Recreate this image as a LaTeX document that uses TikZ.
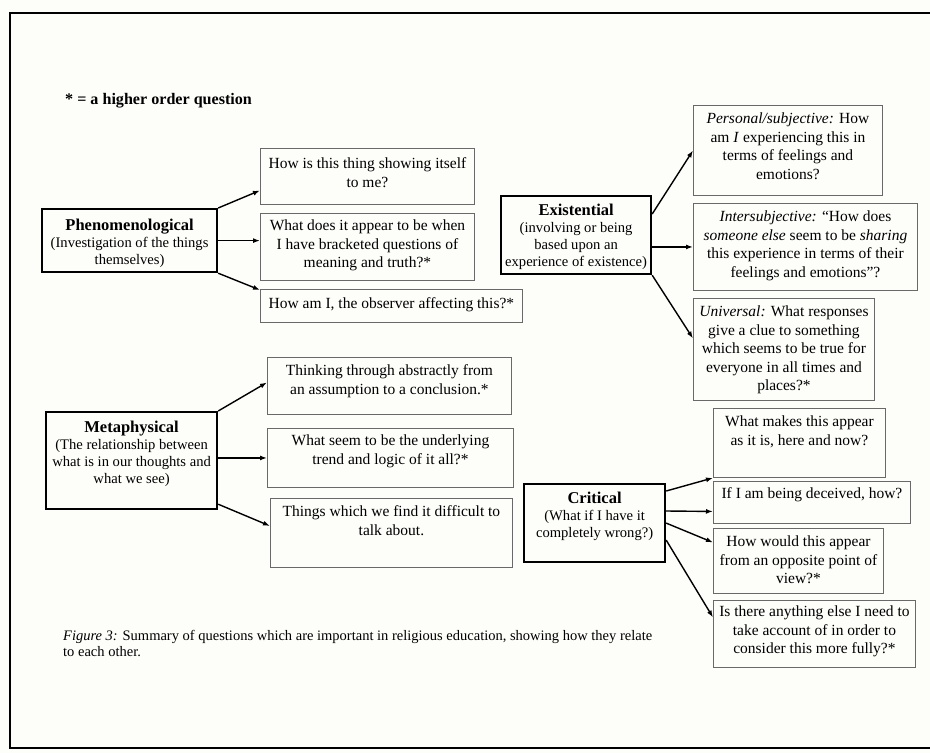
\documentclass[tikz,border=0pt]{standalone}
\usepackage{fontspec}
\setmainfont{Liberation Serif}
\usetikzlibrary{arrows.meta,calc}
\definecolor{paper}{RGB}{253,254,250}
\definecolor{qline}{RGB}{105,105,105}
% question box contents: width, height, top padding, text
\newcommand\qtext[4]{\parbox[c][#2pt][t]{#1pt}{\centering\fontsize{15.5}{18.5}\selectfont\vspace*{#3pt}\strut #4\par}}
% heading box contents: width, height, top padding, title, description
\newcommand\mtext[5]{\parbox[c][#2pt][t]{#1pt}{\centering\fontsize{14.6}{17}\selectfont\vspace*{#3pt}{\fontsize{16.5}{17}\selectfont\bfseries\strut #4}\\#5\par}}
\begin{document}
\begin{tikzpicture}[x=1pt,y=-1pt,
  qbox/.style={draw=qline,line width=0.9pt,inner sep=0pt,anchor=north west},
  mbox/.style={draw=black,line width=2.2pt,inner sep=0pt,anchor=north west},
  link/.style={line width=1.4pt,-{Latex[length=7pt,width=5pt]}}]
\useasboundingbox (0,0) rectangle (930,753);
\fill[paper] (0,0) rectangle (930,753);
\draw[line width=2.2pt] (930,13) -- (10,13) -- (10,748) -- (930,748);

\node[anchor=west,inner sep=0pt,font=\fontsize{16.1}{18}\selectfont\bfseries] (key) at (65,101) {* = a higher order question};

% Phenomenological
\node[mbox] (phen) at (41,208) {\mtext{175}{63}{9.1}{Phenomenological}{(Investigation of the things\\themselves)}};
\node[qbox] (q1) at (260,148) {\qtext{214}{56}{7.5}{How is this thing showing itself\\to me?}};
\node[qbox] (q2) at (260,213) {\qtext{214}{67}{4.5}{What does it appear to be when\\I have bracketed questions of\\meaning and truth?*}};
\node[qbox] (q3) at (260,289) {\qtext{262}{33}{6.5}{How am I, the observer affecting this?*}};

% Existential
\node[mbox] (exist) at (500,195) {\mtext{150}{78}{7.1}{Existential}{(involving or being\\based upon an\\experience of existence)}};
\node[qbox] (e1) at (693,105) {\qtext{189}{90}{5.5}{\textit{Personal/subjective:} How\\am \textit{I} experiencing this in\\terms of feelings and\\emotions?}};
\node[qbox] (e2) at (693,203) {\qtext{224}{87}{5.5}{\textit{Intersubjective:} ``How does\\\textit{someone else} seem to be \textit{sharing}\\this experience in terms of their\\feelings and emotions''?}};
\node[qbox] (e3) at (693,298) {\qtext{181}{102}{5.5}{\textit{Universal:} What responses\\give a clue to something\\which seems to be true for\\everyone in all times and\\places?*}};

% Metaphysical
\node[mbox] (meta) at (45,411) {\mtext{171}{97}{8.1}{Metaphysical}{(The relationship between\\what is in our thoughts and\\what we see)}};
\node[qbox] (m1) at (267,357) {\qtext{244}{57}{5.5}{Thinking through abstractly from\\an assumption to a conclusion.*}};
\node[qbox] (m2) at (267,428) {\qtext{246}{59}{4.5}{What seem to be the underlying\\trend and logic of it all?*}};
\node[qbox] (m3) at (270,498) {\qtext{242}{69}{5.5}{Things which we find it difficult to\\talk about.}};

% Critical
\node[mbox] (crit) at (523,483) {\mtext{141}{78}{7.1}{Critical}{(What if I have it\\completely wrong?)}};
\node[qbox] (c1) at (713,408) {\qtext{172}{69}{5.5}{What makes this appear\\as it is, here and now?}};
\node[qbox] (c2) at (713,481) {\qtext{197}{42}{4.5}{If I am being deceived, how?}};
\node[qbox] (c3) at (713,528) {\qtext{170}{65}{5.5}{How would this appear\\from an opposite point of\\view?*}};
\node[qbox] (c4) at (713,600) {\qtext{202}{67}{3.5}{Is there anything else I need to\\take account of in order to\\consider this more fully?*}};

% connectors
\draw[link] (phen.north east) -- ([yshift=-14pt]q1.west);
\draw[link] (phen.east) -- (phen.east -| q2.west);
\draw[link] (phen.south east) -- ([yshift=-1pt]q3.north west);

\draw[link] ([yshift=-19pt]exist.north east) -- (e1.west);
\draw[link] (exist.east |- e2.west) -- (e2.west);
\draw[link] (exist.south east) -- ([yshift=11pt]e3.west);

\draw[link] (meta.north east) -- ([yshift=3.5pt]m1.west);
\draw[link] (meta.east |- m2.west) -- (m2.west);
\draw[link] ([yshift=6pt]meta.south east) -- ([yshift=7pt]m3.west);

\draw[link] ([yshift=-8pt]crit.north east) -- (c1.south west);
\draw[link] ([yshift=-28pt]crit.north east) -- ([yshift=-9pt]c2.west);
\draw[link] (crit.east) -- ([yshift=18.5pt]c3.west);
\draw[link] ([yshift=-17pt]crit.east) -- ([yshift=16.5pt]c4.west);

\node[anchor=base west,inner sep=0pt] (caption) at (63,640) {\parbox[t]{700pt}{\raggedright\fontsize{14.5}{16}\selectfont\textit{Figure 3:} Summary of questions which are important in religious education, showing how they relate\\to each other.}};
\end{tikzpicture}
\end{document}
